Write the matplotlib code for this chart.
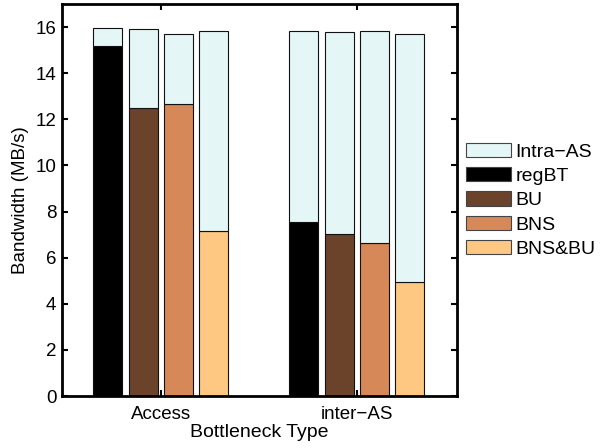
import numpy as np
import matplotlib
matplotlib.use('Agg')
import matplotlib.pyplot as plt

plt.rcParams['font.family'] = ['Liberation Sans', 'DejaVu Sans']

groups = ['Access', 'inter\u2212AS']
series = ['regBT', 'BU', 'BNS', 'BNS&BU']
# lower segment of each bar (per series, per group)
lower = {
    'regBT': [15.2, 7.55],
    'BU': [12.5, 7.04],
    'BNS': [12.65, 6.64],
    'BNS&BU': [7.15, 4.93],
}
# total bar height (lower + Intra-AS)
total = {
    'regBT': [15.96, 15.85],
    'BU': [15.91, 15.77],
    'BNS': [15.72, 15.84],
    'BNS&BU': [15.81, 15.72],
}
colors = {'regBT': '#000000', 'BU': '#6b432a', 'BNS': '#d68858', 'BNS&BU': '#ffc882'}
intra_color = '#e4f6f6'

fig = plt.figure(figsize=(6.01, 4.48), dpi=100)
ax = fig.add_axes([0.103, 0.116, 0.657, 0.875])

x = np.arange(1, len(groups) + 1)
width = 0.148
offsets = [-0.27, -0.09, 0.09, 0.27]

for i, s in enumerate(series):
    lo = np.array(lower[s])
    top = np.array(total[s]) - lo
    ax.bar(x + offsets[i], lo, width, color=colors[s], edgecolor='#111111', linewidth=0.8)
    ax.bar(x + offsets[i], top, width, bottom=lo, color=intra_color, edgecolor='#111111', linewidth=0.8)

ax.set_xlim(0.495, 2.51)
ax.set_ylim(0, 17)
ax.set_yticks(np.arange(0, 17, 2))
ax.set_xticks(x)
ax.set_xticklabels(groups, fontsize=14)
ax.tick_params(direction='in', top=True, right=True, labelsize=13.5, length=4, width=1.5, pad=4)
ax.tick_params(axis='x', pad=7)
for sp in ax.spines.values():
    sp.set_linewidth(2)
ax.set_xlabel('Bottleneck Type', fontsize=14, labelpad=1)
ax.set_ylabel('Bandwidth (MB/s)', fontsize=13.5, labelpad=5)

handles = [plt.Rectangle((0, 0), 1, 1, facecolor=intra_color, edgecolor='#444444', linewidth=0.8)]
for s in series:
    handles.append(plt.Rectangle((0, 0), 1, 1, facecolor=colors[s], edgecolor='#444444', linewidth=0.8))
labels = ['Intra\u2212AS'] + series
fig.legend(handles, labels, loc='center left', bbox_to_anchor=(0.775, 0.553), frameon=False,
           fontsize=14, handlelength=2.35, handleheight=0.75, handletextpad=0.2, labelspacing=0.33,
           borderaxespad=0, borderpad=0)

fig.savefig('out.png', dpi=100)
